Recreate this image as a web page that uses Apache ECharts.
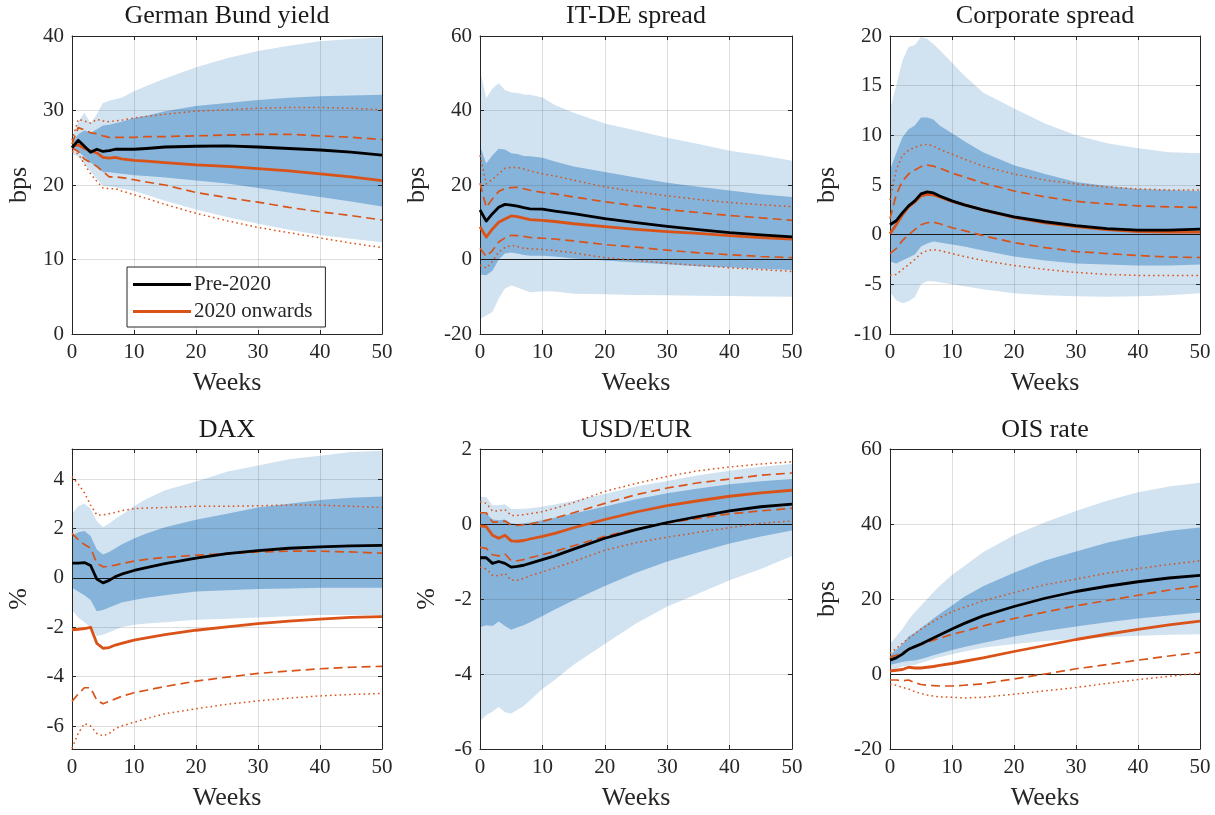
<!DOCTYPE html>
<html>
<head>
<meta charset="utf-8">
<script src="https://cdn.jsdelivr.net/npm/echarts@6/dist/echarts.min.js"></script>
<style>
  html, body { margin: 0; padding: 0; background: #ffffff; }
  #chart { width: 1215px; height: 815px; }
</style>
</head>
<body>
<div id="chart"></div>
<script>
// Horizon (weeks) at which every response is sampled
const weeks = [0, 1, 2, 3, 4, 5, 6, 7, 8, 10, 12, 15, 20, 25, 30, 35, 40, 45, 50];

// German Bund yield (bps)
const bundOuterLo = [24.2, 23.8, 22.8, 21.8, 20.8, 19.9, 19.8, 19.7, 19.5, 19.2, 18.7, 17.9, 16.7, 15.7, 14.8, 14.0, 13.3, 12.8, 12.3];
const bundOuterHi = [26.3, 28.5, 29.7, 28.3, 29.5, 31.0, 31.3, 31.5, 31.7, 32.6, 33.3, 34.3, 35.8, 37.0, 38.0, 38.7, 39.3, 39.6, 39.8];
const bundInnerLo = [24.8, 24.5, 23.8, 23.0, 22.5, 21.7, 21.7, 21.6, 21.5, 21.3, 21.2, 21.0, 20.6, 20.2, 19.6, 19.0, 18.4, 17.8, 17.1];
const bundInnerHi = [25.5, 26.8, 27.3, 27.0, 27.5, 28.0, 28.1, 28.3, 28.5, 29.0, 29.3, 29.9, 30.6, 31.0, 31.4, 31.7, 31.9, 32.0, 32.1];
const bundPre     = [25.0, 26.0, 25.2, 24.4, 24.8, 24.5, 24.6, 24.8, 24.8, 24.8, 24.9, 25.1, 25.2, 25.25, 25.1, 24.9, 24.7, 24.4, 24.0];
const bundPost    = [25.2, 25.4, 24.9, 24.6, 24.3, 23.7, 23.6, 23.7, 23.5, 23.3, 23.2, 23.0, 22.7, 22.5, 22.2, 21.9, 21.5, 21.1, 20.6];
const bundDashLo  = [25.0, 24.5, 23.5, 23.0, 22.5, 21.8, 21.1, 21.1, 21.0, 20.7, 20.4, 20.0, 19.0, 18.3, 17.7, 17.0, 16.4, 15.9, 15.3];
const bundDashHi  = [25.5, 27.7, 27.4, 27.0, 26.9, 26.6, 26.4, 26.4, 26.4, 26.4, 26.5, 26.5, 26.6, 26.7, 26.8, 26.8, 26.6, 26.4, 26.1];
const bundDotLo   = [24.5, 24.2, 22.8, 21.5, 20.5, 19.6, 19.5, 19.5, 19.2, 18.7, 18.2, 17.4, 16.2, 15.2, 14.3, 13.6, 12.9, 12.2, 11.6];
const bundDotHi   = [26.0, 28.8, 28.6, 28.3, 28.8, 28.6, 28.5, 28.6, 28.7, 29.0, 29.2, 29.5, 29.9, 30.1, 30.3, 30.4, 30.4, 30.3, 30.1];

// IT-DE spread (bps)
const spreadOuterLo = [-16.0, -15.0, -14.1, -10.5, -7.8, -7.0, -7.5, -8.2, -8.8, -8.5, -8.6, -9.2, -9.3, -9.5, -9.6, -9.7, -9.8, -9.9, -10.0];
const spreadOuterHi = [50.8, 43.3, 45.9, 47.3, 45.5, 44.8, 44.7, 44.3, 44.2, 43.5, 41.5, 39.4, 36.5, 34.6, 32.7, 31.0, 29.2, 28.0, 26.5];
const spreadInnerLo = [-4.0, -4.2, -3.0, 0.0, 1.6, 1.9, 1.6, 1.2, 1.0, 1.0, 0.8, 0.3, -0.3, -0.8, -1.3, -1.8, -2.1, -2.5, -2.8];
const spreadInnerHi = [30.5, 25.8, 28.0, 29.7, 29.5, 28.5, 28.3, 27.8, 27.7, 27.3, 26.3, 25.0, 23.5, 22.0, 20.6, 19.5, 18.5, 17.5, 16.8];
const spreadPre     = [13.3, 10.3, 12.3, 14.0, 14.8, 14.6, 14.3, 13.9, 13.6, 13.5, 13.0, 12.3, 11.0, 9.9, 8.9, 8.0, 7.2, 6.6, 6.1];
const spreadPost    = [8.8, 6.0, 8.2, 10.0, 10.9, 11.7, 11.5, 11.1, 10.7, 10.5, 10.2, 9.6, 8.8, 8.1, 7.5, 7.0, 6.4, 5.9, 5.5];
const spreadDashLo  = [3.0, 0.8, 2.4, 4.7, 5.8, 6.5, 6.4, 6.2, 5.9, 5.7, 5.5, 5.0, 4.0, 3.3, 2.5, 1.8, 1.3, 0.8, 0.5];
const spreadDashHi  = [20.5, 14.0, 16.3, 18.3, 19.0, 19.3, 19.4, 19.0, 18.6, 18.0, 17.6, 16.8, 15.5, 14.4, 13.4, 12.6, 11.8, 11.2, 10.5];
const spreadDotLo   = [-1.5, -2.3, -0.5, 2.0, 3.2, 3.8, 3.5, 3.0, 2.9, 2.7, 2.4, 1.8, 0.5, -0.2, -1.0, -1.6, -2.2, -2.7, -3.2];
const spreadDotHi   = [28.0, 20.3, 21.5, 23.0, 24.5, 24.7, 24.7, 24.3, 23.8, 23.0, 22.4, 21.3, 19.5, 18.2, 17.1, 16.1, 15.3, 14.7, 14.2];

// Corporate spread (bps)
const corpOuterLo = [-5.8, -6.6, -6.9, -6.7, -6.3, -5.0, -4.7, -4.7, -4.8, -5.0, -5.2, -5.5, -5.9, -6.1, -6.2, -6.25, -6.2, -6.1, -5.9];
const corpOuterHi = [12.6, 15.0, 17.5, 18.9, 19.1, 19.9, 19.7, 19.2, 18.6, 17.3, 16.0, 14.3, 12.7, 11.2, 10.0, 9.2, 8.7, 8.3, 8.2];
const corpInnerLo = [-2.7, -2.9, -2.6, -2.3, -2.0, -1.2, -0.9, -0.7, -0.8, -1.0, -1.2, -1.6, -2.2, -2.6, -2.9, -3.0, -3.1, -3.1, -3.0];
const corpInnerHi = [6.5, 8.2, 9.8, 10.6, 11.0, 11.8, 11.8, 11.6, 11.0, 10.2, 9.4, 8.3, 7.0, 6.1, 5.3, 4.9, 4.6, 4.5, 4.4];
const corpPre     = [1.0, 1.4, 2.2, 2.9, 3.4, 4.1, 4.3, 4.2, 3.9, 3.4, 3.0, 2.5, 1.8, 1.3, 0.9, 0.6, 0.45, 0.45, 0.55];
const corpPost    = [0.1, 1.0, 2.0, 2.8, 3.3, 3.9, 4.05, 4.0, 3.8, 3.35, 3.0, 2.5, 1.75, 1.2, 0.8, 0.5, 0.3, 0.25, 0.25];
const corpDashLo  = [-1.9, -1.4, -0.6, 0.0, 0.5, 1.0, 1.2, 1.25, 1.1, 0.7, 0.4, -0.1, -0.8, -1.3, -1.7, -1.9, -2.1, -2.25, -2.3];
const corpDashHi  = [1.6, 4.0, 5.4, 6.1, 6.5, 6.85, 7.0, 6.9, 6.7, 6.2, 5.8, 5.2, 4.4, 3.8, 3.35, 3.1, 2.9, 2.8, 2.75];
const corpDotLo   = [-4.1, -4.0, -3.5, -3.0, -2.5, -1.9, -1.6, -1.5, -1.6, -1.9, -2.2, -2.6, -3.1, -3.5, -3.8, -4.0, -4.1, -4.1, -4.1];
const corpDotHi   = [3.5, 6.5, 8.0, 8.5, 8.8, 9.0, 9.1, 8.9, 8.6, 8.1, 7.6, 6.9, 6.1, 5.5, 5.1, 4.8, 4.6, 4.5, 4.5];

// DAX (%)
const daxOuterLo = [-1.3, -1.6, -1.8, -2.0, -2.35, -2.3, -2.2, -2.1, -2.0, -1.9, -1.85, -1.8, -1.7, -1.65, -1.6, -1.55, -1.5, -1.5, -1.5];
const daxOuterHi = [2.6, 2.9, 3.0, 2.8, 2.3, 2.05, 2.2, 2.4, 2.55, 2.9, 3.2, 3.55, 3.9, 4.3, 4.55, 4.8, 4.95, 5.1, 5.15];
const daxInnerLo = [-0.4, -0.55, -0.7, -0.9, -1.35, -1.3, -1.2, -1.1, -1.0, -0.9, -0.8, -0.7, -0.55, -0.5, -0.45, -0.43, -0.4, -0.4, -0.4];
const daxInnerHi = [1.7, 1.85, 1.9, 1.7, 1.15, 0.95, 1.05, 1.2, 1.35, 1.6, 1.8, 2.05, 2.35, 2.6, 2.85, 3.0, 3.15, 3.25, 3.3];
const daxPre     = [0.6, 0.6, 0.62, 0.5, -0.05, -0.2, -0.1, 0.05, 0.15, 0.3, 0.42, 0.58, 0.8, 0.98, 1.1, 1.2, 1.26, 1.3, 1.32];
const daxPost    = [-2.1, -2.08, -2.05, -2.0, -2.65, -2.85, -2.82, -2.72, -2.65, -2.52, -2.43, -2.3, -2.12, -1.98, -1.85, -1.75, -1.67, -1.6, -1.57];
const daxDashLo  = [-5.0, -4.7, -4.45, -4.45, -4.95, -5.1, -5.0, -4.9, -4.8, -4.65, -4.55, -4.4, -4.18, -4.02, -3.87, -3.77, -3.68, -3.62, -3.58];
const daxDashHi  = [1.8, 1.55, 1.35, 1.2, 0.6, 0.45, 0.47, 0.52, 0.58, 0.68, 0.75, 0.83, 0.92, 0.98, 1.05, 1.08, 1.08, 1.05, 1.0];
const daxDotLo   = [-6.9, -6.3, -5.9, -6.0, -6.3, -6.4, -6.3, -6.1, -6.0, -5.85, -5.7, -5.5, -5.3, -5.12, -4.98, -4.87, -4.78, -4.72, -4.68];
const daxDotHi   = [4.1, 3.8, 3.45, 2.95, 2.55, 2.55, 2.6, 2.65, 2.72, 2.8, 2.83, 2.85, 2.9, 2.9, 2.92, 2.95, 2.95, 2.9, 2.85];

// USD/EUR (%)
const fxOuterLo = [-5.25, -5.1, -5.0, -4.88, -5.02, -5.05, -4.95, -4.85, -4.7, -4.4, -4.15, -3.75, -3.2, -2.65, -2.2, -1.85, -1.5, -1.2, -0.85];
const fxOuterHi = [0.72, 0.72, 0.5, 0.5, 0.53, 0.4, 0.4, 0.41, 0.42, 0.46, 0.52, 0.62, 0.8, 1.0, 1.15, 1.3, 1.42, 1.53, 1.6];
const fxInnerLo = [-2.75, -2.7, -2.72, -2.6, -2.72, -2.82, -2.75, -2.7, -2.62, -2.45, -2.28, -2.03, -1.65, -1.3, -1.0, -0.75, -0.52, -0.33, -0.17];
const fxInnerHi = [0.3, 0.28, 0.12, 0.1, 0.12, 0.02, 0.0, 0.02, 0.04, 0.1, 0.17, 0.28, 0.47, 0.66, 0.82, 0.95, 1.06, 1.14, 1.2];
const fxPre     = [-0.9, -0.9, -1.05, -1.0, -1.05, -1.15, -1.13, -1.1, -1.05, -0.95, -0.85, -0.67, -0.38, -0.15, 0.04, 0.2, 0.35, 0.46, 0.53];
const fxPost    = [-0.05, -0.07, -0.3, -0.38, -0.3, -0.45, -0.46, -0.44, -0.4, -0.33, -0.25, -0.1, 0.12, 0.32, 0.49, 0.62, 0.74, 0.83, 0.9];
const fxDashLo  = [-0.62, -0.65, -0.82, -0.85, -0.8, -0.98, -0.98, -0.95, -0.9, -0.82, -0.73, -0.58, -0.33, -0.13, 0.03, 0.15, 0.27, 0.35, 0.42];
const fxDashHi  = [0.3, 0.3, 0.05, 0.05, 0.08, -0.03, -0.04, -0.02, 0.0, 0.07, 0.16, 0.3, 0.55, 0.78, 0.96, 1.1, 1.2, 1.3, 1.36];
const fxDotLo   = [-1.15, -1.2, -1.37, -1.38, -1.32, -1.5, -1.5, -1.45, -1.38, -1.28, -1.17, -1.0, -0.7, -0.5, -0.35, -0.22, -0.1, 0.02, 0.08];
const fxDotHi   = [0.6, 0.55, 0.35, 0.35, 0.38, 0.23, 0.23, 0.25, 0.27, 0.33, 0.42, 0.57, 0.87, 1.08, 1.27, 1.42, 1.52, 1.6, 1.66];

// OIS rate (bps)
const oisOuterLo = [1.0, 1.5, 2.0, 2.3, 2.4, 3.0, 3.5, 4.0, 4.5, 5.3, 6.0, 7.0, 8.0, 8.8, 9.3, 9.8, 10.2, 10.5, 10.6];
const oisOuterHi = [8.0, 10.0, 12.0, 14.5, 16.5, 18.2, 20.0, 21.8, 23.5, 26.4, 28.8, 32.5, 37.0, 40.5, 43.5, 46.2, 48.5, 50.0, 51.0];
const oisInnerLo = [2.5, 2.8, 3.2, 3.5, 3.6, 4.0, 4.5, 5.0, 5.5, 6.4, 7.2, 8.3, 10.0, 11.5, 12.7, 13.8, 14.8, 15.6, 16.4];
const oisInnerHi = [5.0, 6.5, 8.0, 10.0, 11.0, 12.3, 13.5, 14.8, 16.0, 18.3, 20.6, 23.4, 27.0, 30.3, 32.7, 35.0, 36.8, 38.2, 39.1];
const oisPre     = [3.7, 4.3, 5.3, 6.6, 7.3, 8.0, 8.8, 9.6, 10.4, 12.0, 13.5, 15.5, 18.0, 20.2, 22.0, 23.4, 24.6, 25.6, 26.3];
const oisPost    = [0.8, 1.0, 1.2, 1.8, 1.6, 1.6, 1.8, 2.0, 2.3, 2.8, 3.4, 4.3, 6.0, 7.6, 9.2, 10.6, 11.9, 13.1, 14.1];
const oisDashLo  = [-1.6, -1.6, -1.8, -1.6, -2.3, -2.8, -3.0, -3.1, -3.2, -3.2, -3.0, -2.6, -1.3, 0.0, 1.4, 2.5, 3.7, 4.8, 5.8];
const oisDashHi  = [4.5, 5.0, 5.8, 6.5, 7.2, 7.8, 8.5, 9.0, 9.5, 10.6, 11.4, 12.8, 14.8, 16.5, 18.2, 19.6, 21.0, 22.4, 23.5];
const oisDotLo   = [-2.7, -3.0, -3.6, -4.0, -4.7, -5.2, -5.6, -5.9, -6.1, -6.2, -6.4, -6.2, -5.4, -4.5, -3.6, -2.5, -1.5, -0.6, 0.2];
const oisDotHi   = [5.5, 6.8, 8.2, 9.5, 10.7, 12.0, 13.0, 14.0, 15.0, 16.6, 17.8, 19.5, 21.7, 23.8, 25.3, 26.9, 28.1, 29.2, 30.2];

// Panel titles, units and axis ticks
const panelTitles = ['German Bund yield', 'IT-DE spread', 'Corporate spread', 'DAX', 'USD/EUR', 'OIS rate'];
const yUnits = ['bps', 'bps', 'bps', '%', '%', 'bps'];
const yMins = [0, -20, -10, -6.93, -6, -20];
const yMaxs = [40, 60, 20, 5.22, 2, 60];
const yTickValues = [
  [0, 10, 20, 30, 40],
  [-20, 0, 20, 40, 60],
  [-10, -5, 0, 5, 10, 15, 20],
  [-6, -4, -2, 0, 2, 4],
  [-6, -4, -2, 0, 2],
  [-20, 0, 20, 40, 60]
];
const legendNames = ['Pre-2020', '2020 onwards'];

// ---- assembly -------------------------------------------------------------
const panels = [
  [bundOuterLo, bundOuterHi, bundInnerLo, bundInnerHi, bundPre, bundPost, bundDashLo, bundDashHi, bundDotLo, bundDotHi],
  [spreadOuterLo, spreadOuterHi, spreadInnerLo, spreadInnerHi, spreadPre, spreadPost, spreadDashLo, spreadDashHi, spreadDotLo, spreadDotHi],
  [corpOuterLo, corpOuterHi, corpInnerLo, corpInnerHi, corpPre, corpPost, corpDashLo, corpDashHi, corpDotLo, corpDotHi],
  [daxOuterLo, daxOuterHi, daxInnerLo, daxInnerHi, daxPre, daxPost, daxDashLo, daxDashHi, daxDotLo, daxDotHi],
  [fxOuterLo, fxOuterHi, fxInnerLo, fxInnerHi, fxPre, fxPost, fxDashLo, fxDashHi, fxDotLo, fxDotHi],
  [oisOuterLo, oisOuterHi, oisInnerLo, oisInnerHi, oisPre, oisPost, oisDashLo, oisDashHi, oisDotLo, oisDotHi]
];

const FONT = '"Liberation Serif", "DejaVu Serif", serif';
const AXIS_COLOR = '#262626';
const GRID_COLOR = 'rgba(38,38,38,0.15)';
const OUTER_BAND = '#d1e2f1';
const INNER_BAND = '#86b3da';
const ORANGE = '#d95319';

const colLeft = [72, 480, 890];
const colWidth = [310, 312, 310];
const rowTop = [36, 449];
const rowHeight = [298, 300];
const nameGaps = [53, 63, 63, 53, 53, 63];
const titleY = [16, 430];

const grids = [], xAxes = [], yAxes = [], series = [], graphics = [];

function bandSeries(p, lo, hi, color, z) {
  return {
    type: 'custom',
    xAxisIndex: p, yAxisIndex: p,
    silent: true, animation: false, z: z,
    data: weeks.map((w, i) => [w, lo[i], hi[i]]),
    encode: { x: 0, y: [1, 2] },
    renderItem: function (params, api) {
      if (params.dataIndex !== 0) return null;
      const pts = [];
      for (let i = 0; i < weeks.length; i++) pts.push(api.coord([weeks[i], hi[i]]));
      for (let i = weeks.length - 1; i >= 0; i--) pts.push(api.coord([weeks[i], lo[i]]));
      return { type: 'polygon', shape: { points: pts }, style: { fill: color } };
    }
  };
}

function lineSeries(p, name, values, color, width, type, z, extra) {
  return Object.assign({
    type: 'line', name: name,
    xAxisIndex: p, yAxisIndex: p,
    data: weeks.map((w, i) => [w, values[i]]),
    showSymbol: false, symbol: 'none', smooth: false,
    lineStyle: { color: color, width: width, type: type, cap: 'butt', join: 'round' },
    itemStyle: { color: color },
    silent: true, animation: false, z: z
  }, extra || {});
}

for (let p = 0; p < 6; p++) {
  const r = Math.floor(p / 3), c = p % 3;
  grids.push({ left: colLeft[c], top: rowTop[r], width: colWidth[c], height: rowHeight[r],
               containLabel: false, outerBoundsMode: 'none' });

  const ticks = yTickValues[p];
  // bottom and left axes carry labels and grid lines
  xAxes.push({
    type: 'value', gridIndex: p, min: 0, max: 50, interval: 10, position: 'bottom', z: 3,
    axisLine: { show: true, onZero: false, lineStyle: { color: AXIS_COLOR, width: 1 } },
    axisTick: { show: true, inside: true, length: 4, lineStyle: { color: AXIS_COLOR } },
    axisLabel: { show: true, margin: 8, color: AXIS_COLOR, fontFamily: FONT, fontSize: 21,
                 showMinLabel: true, showMaxLabel: true, hideOverlap: false },
    splitLine: { show: true, lineStyle: { color: GRID_COLOR, width: 1 } },
    name: 'Weeks', nameLocation: 'middle', nameGap: 49, nameMoveOverlap: false,
    nameTextStyle: { fontFamily: FONT, fontSize: 26, color: AXIS_COLOR, verticalAlign: 'middle' }
  });
  yAxes.push({
    type: 'value', gridIndex: p, min: yMins[p], max: yMaxs[p], position: 'left', z: 3,
    axisLine: { show: true, onZero: false, lineStyle: { color: AXIS_COLOR, width: 1 } },
    axisTick: { show: true, inside: true, length: 4, lineStyle: { color: AXIS_COLOR }, customValues: ticks },
    axisLabel: { show: true, margin: 8, color: AXIS_COLOR, fontFamily: FONT, fontSize: 21,
                 customValues: ticks, showMinLabel: true, showMaxLabel: true, hideOverlap: false },
    splitLine: { show: true, lineStyle: { color: GRID_COLOR, width: 1 }, customValues: ticks },
    name: yUnits[p], nameLocation: 'middle', nameGap: nameGaps[p], nameRotate: 90, nameMoveOverlap: false,
    nameTextStyle: { fontFamily: FONT, fontSize: 26, color: AXIS_COLOR, verticalAlign: 'middle' }
  });
}
// top and right axes close the box
for (let p = 0; p < 6; p++) {
  const ticks = yTickValues[p];
  xAxes.push({
    type: 'value', gridIndex: p, min: 0, max: 50, interval: 10, position: 'top', z: 3,
    axisLine: { show: true, onZero: false, lineStyle: { color: AXIS_COLOR, width: 1 } },
    axisTick: { show: true, inside: true, length: 4, lineStyle: { color: AXIS_COLOR } },
    axisLabel: { show: false }, splitLine: { show: false }
  });
  yAxes.push({
    type: 'value', gridIndex: p, min: yMins[p], max: yMaxs[p], position: 'right', z: 3,
    axisLine: { show: true, onZero: false, lineStyle: { color: AXIS_COLOR, width: 1 } },
    axisTick: { show: true, inside: true, length: 4, lineStyle: { color: AXIS_COLOR }, customValues: ticks },
    axisLabel: { show: false, customValues: ticks }, splitLine: { show: false }
  });
}

const zeroMark = {
  silent: true, symbol: 'none', animation: false,
  label: { show: false },
  lineStyle: { color: '#1a1a1a', width: 1, type: 'solid' },
  data: [{ yAxis: 0 }]
};

for (let p = 0; p < 6; p++) {
  const [oLo, oHi, iLo, iHi, pre, post, dLo, dHi, tLo, tHi] = panels[p];
  series.push(bandSeries(p, oLo, oHi, OUTER_BAND, 1));
  series.push(bandSeries(p, iLo, iHi, INNER_BAND, 1));
  series.push(lineSeries(p, 'upper 68%', dHi, ORANGE, 1.7, [9, 5], 5,
                         p === 0 ? {} : { markLine: zeroMark }));
  series.push(lineSeries(p, 'lower 68%', dLo, ORANGE, 1.7, [9, 5], 5));
  series.push(lineSeries(p, 'upper 90%', tHi, ORANGE, 1.5, [1.6, 3.2], 5));
  series.push(lineSeries(p, 'lower 90%', tLo, ORANGE, 1.5, [1.6, 3.2], 5));
  series.push(lineSeries(p, legendNames[1], post, ORANGE, 2.8, 'solid', 6));
  series.push(lineSeries(p, legendNames[0], pre, '#000000', 2.8, 'solid', 7));

  const r = Math.floor(p / 3), c = p % 3;
  graphics.push({
    type: 'text', silent: true, z: 10,
    x: colLeft[c] + colWidth[c] / 2, y: titleY[r],
    style: { text: panelTitles[p], font: '26px ' + FONT, fill: '#1a1a1a',
             align: 'center', verticalAlign: 'middle',
             textAlign: 'center', textVerticalAlign: 'middle' }
  });
}

const chart = echarts.init(document.getElementById('chart'), null, { renderer: 'canvas' });
chart.setOption({
  backgroundColor: '#ffffff',
  animation: false,
  grid: grids,
  xAxis: xAxes,
  yAxis: yAxes,
  series: series,
  graphic: graphics,
  legend: {
    data: legendNames,
    selectedMode: false,
    orient: 'vertical',
    left: 127, top: 267,
    backgroundColor: '#ffffff',
    borderColor: AXIS_COLOR, borderWidth: 1, borderRadius: 0,
    padding: [7, 13, 5, 6],
    itemGap: 6, itemWidth: 58, itemHeight: 3,
    icon: 'rect',
    textStyle: { fontFamily: FONT, fontSize: 21, color: AXIS_COLOR, padding: [0, 0, 0, -2] },
    z: 20
  }
});
</script>
</body>
</html>
